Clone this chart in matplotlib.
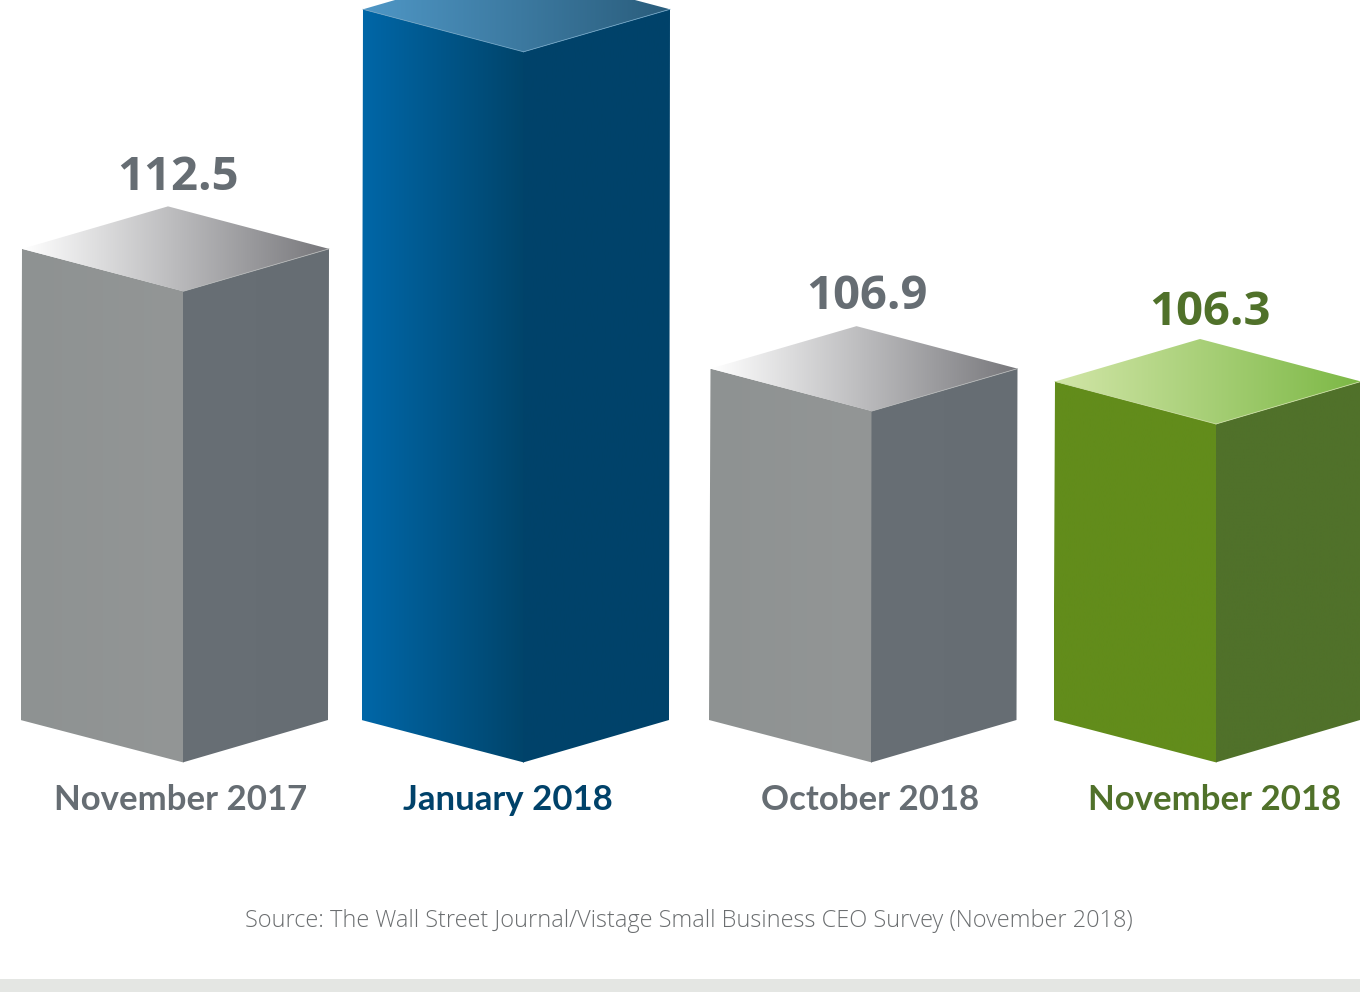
import numpy as np
import matplotlib
matplotlib.use("Agg")
import matplotlib.pyplot as plt
from matplotlib.colors import LinearSegmentedColormap, to_rgb
from matplotlib.patches import Polygon, Rectangle

# Survey index readings
months = ["November 2017", "January 2018", "October 2018", "November 2018"]
values = [112.5, 123.7, 106.9, 106.3]
show_value = [True, False, True, True]

# Horizontal placement of each column (pixels)
left_edges = [20.5, 361.5, 709, 1053.5]
front_edges = [182.5, 523, 871, 1215.5]
right_edges = [329, 670, 1017.5, 1361]
label_centres = [181, 507.5, 870, 1214.5]
value_lift = [16, 15, 17, 14]

# Face colours: left-face gradient, right-face gradient, top-face gradient, text
left_face = [("#8e9292", "#939696"), ("#0067a8", "#00446a"), ("#8e9292", "#939696"), ("#628c1b", "#628c1b")]
right_face = [("#686f75", "#666d73"), ("#00436a", "#00426a"), ("#686f75", "#666d73"), ("#50712a", "#50712a")]
top_face = [("#ffffff", "#77777b"), ("#4f97c6", "#2a5d7c"), ("#ffffff", "#77777b"), ("#d2e6a8", "#7cb845")]
text_colours = ["#666d73", "#00426a", "#666d73", "#50712a"]
seam_left = ["none", "#6fa3c4", "none", "#c8dca0"]
seam_right = ["#b4b6b6", "#6fa3c4", "#b4b6b6", "#c8dca0"]

SOURCE = "Source: The Wall Street Journal/Vistage Small Business CEO Survey (November 2018)"

W, H = 1360, 992
PX_PER_UNIT = 21.39      # vertical scale of the index
BASE_VALUE = 90.474      # index value at the front-bottom corner
BASE_ROW = 762.5         # pixel row of the front-bottom corner
DEPTH = 42.5             # vertical rise of the receding edges, pixels

fig = plt.figure(figsize=(W / 100, H / 100), dpi=100, facecolor="white")
ax = fig.add_axes([0, 0, 1, 1])
ax.set_xlim(0, W)
ax.set_ylim(BASE_VALUE - (H - BASE_ROW) / PX_PER_UNIT, BASE_VALUE + BASE_ROW / PX_PER_UNIT)
ax.axis("off")

dy = DEPTH / PX_PER_UNIT


def shaded_face(points, colours, z):
    """Fill a polygon with a left-to-right gradient."""
    xs = [p[0] for p in points]
    ys = [p[1] for p in points]
    cmap = LinearSegmentedColormap.from_list("face", [to_rgb(c) for c in colours])
    img = ax.imshow(np.linspace(0, 1, 256).reshape(1, -1), cmap=cmap, aspect="auto",
                    extent=(min(xs), max(xs), min(ys), max(ys)), zorder=z, interpolation="bilinear")
    clip = Polygon(points, closed=True, transform=ax.transData, fc="none", ec="none")
    ax.add_patch(clip)
    img.set_clip_path(clip)


for i, value in enumerate(values):
    xl, xm, xr = left_edges[i], front_edges[i], right_edges[i]
    top = value
    slant = 1.5  # the columns lean very slightly to the right
    # The left face runs a little under the right one so no gap shows at the corner
    shaded_face([(xl, BASE_VALUE + dy), (xm + 1, BASE_VALUE), (xm + 1.5, top), (xl + slant, top + dy)], left_face[i], 2)
    shaded_face([(xm, BASE_VALUE), (xr - 1, BASE_VALUE + dy), (xr, top + dy), (xm + 0.5, top)], right_face[i], 2.1)
    back_x = xl + slant + (xr - xm - 0.5)
    shaded_face([(xl + slant, top + dy), (xm + 0.5, top), (xr, top + dy), (back_x, top + 2 * dy)], top_face[i], 2.2)
    ax.plot([xl + slant, xm + 0.5], [top + dy, top], color=seam_left[i], lw=0.6, zorder=3)
    ax.plot([xm + 0.5, xr], [top, top + dy], color=seam_right[i], lw=0.6, zorder=3)

    ax.text(label_centres[i], BASE_VALUE - 47.5 / PX_PER_UNIT, months[i], ha="center", va="baseline",
            fontsize=25, fontweight="bold", color=text_colours[i], family="Lato")
    if show_value[i]:
        ax.text(back_x + 10, top + 2 * dy + value_lift[i] / PX_PER_UNIT, f"{value:.1f}", ha="center", va="baseline",
                fontsize=34, fontweight="bold", color=text_colours[i], family="Open Sans")

ax.text(689, BASE_VALUE - 164 / PX_PER_UNIT, SOURCE, ha="center", va="baseline",
        fontsize=16.9, fontweight="light", color="#6b6e70", family="Open Sans")

# Footer band along the bottom edge
fig.add_artist(Rectangle((0, 0), 1, 13 / H, transform=fig.transFigure, fc="#e4e6e3", ec="none"))

fig.savefig("out.png", dpi=100, facecolor="white")
